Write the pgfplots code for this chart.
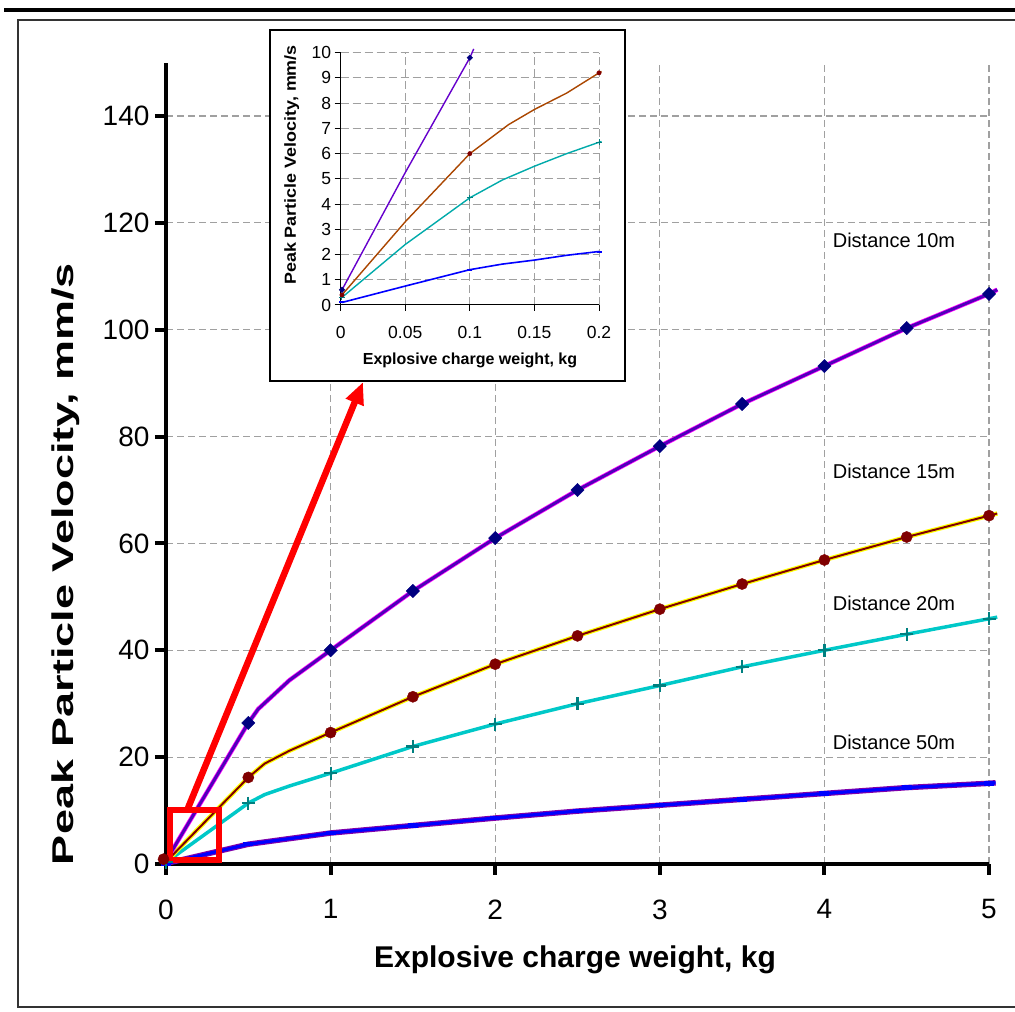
\documentclass[border=0pt]{standalone}
\usepackage{graphicx}
\usepackage{pgfplots}
\pgfplotsset{compat=1.18}
\usepackage{fontspec}
\setmainfont{Liberation Sans}
\usetikzlibrary{arrows.meta}
\definecolor{cten}{RGB}{80,0,185}
\definecolor{cmag}{RGB}{255,0,255}
\definecolor{cnavy}{RGB}{0,0,128}
\definecolor{cdred}{RGB}{128,0,0}
\definecolor{cyel}{RGB}{255,255,0}
\definecolor{ccyan}{RGB}{0,200,200}
\definecolor{cteal}{RGB}{0,128,128}
\definecolor{cblue}{RGB}{0,0,255}
\definecolor{cpurp}{RGB}{128,0,170}
\definecolor{cbrown}{RGB}{170,70,0}
\definecolor{itteal}{RGB}{0,170,170}
\definecolor{itpurp}{RGB}{102,0,204}
\definecolor{cgrid}{RGB}{160,160,160}
\begin{document}
\begin{tikzpicture}[x=1pt,y=1pt]
\path[use as bounding box] (0pt,0pt) rectangle (1015pt,1012pt);
% outer frame
\draw[line width=4.5pt] (4pt,1002pt) -- (1015pt,1002pt);
\draw[line width=1.5pt, black!80] (1016pt,992pt) -- (18pt,992pt) -- (18pt,5pt) -- (1016pt,5pt);
% main axis
\begin{axis}[at={(166pt,148pt)}, anchor=south west,
  width=823pt, height=801.4pt, scale only axis,
  xmin=0, xmax=5, ymin=0, ymax=150,
  xtick={0,1,2,3,4,5}, ytick={0,20,40,60,80,100,120,140},
  axis x line=bottom, axis y line=left,
  axis line style={-, line width=4pt},
  tick align=outside, major tick length=11pt,
  tick style={black, line width=4pt},
  grid=major, grid style={dash pattern=on 7pt off 4pt, cgrid, line width=1.2pt},
  ticklabel style={font=\fontsize{28}{32}\selectfont},
  xticklabel style={yshift=-21pt},
  yticklabel style={xshift=-2pt},
  /pgf/number format/assume math mode=true,
  scaled ticks=false, clip=false]
% 50 m
\addplot[cpurp, line width=5.5pt, no markers] coordinates {(0,0.1) (0.5,3.7) (1,5.8) (1.5,7.2) (2,8.6) (2.5,9.9) (3,11.0) (3.5,12.1) (4,13.2) (4.5,14.3) (5,15.1) (5.04,15.2)};
\addplot[cblue, line width=3.2pt, no markers] coordinates {(0,0.1) (0.5,3.7) (1,5.8) (1.5,7.2) (2,8.6) (2.5,9.9) (3,11.0) (3.5,12.1) (4,13.2) (4.5,14.3) (5,15.1) (5.04,15.2)};
\addplot[only marks, cblue, mark=-, mark size=5pt, mark options={line width=4.5pt}] coordinates {(0,0.1) (0.5,3.7) (1,5.8) (1.5,7.2) (2,8.6) (2.5,9.9) (3,11.0) (3.5,12.1) (4,13.2) (4.5,14.3) (5,15.1)};
% 20 m
\addplot[ccyan, line width=3.5pt, no markers] coordinates {(0,0.3) (0.5,11.4) (0.6,13.0) (0.75,14.6) (1,17.0) (1.5,22.0) (2,26.2) (2.5,30.0) (3,33.4) (3.5,36.9) (4,40.0) (4.5,43.0) (5,45.9) (5.05,46.2)};
\addplot[only marks, cteal, mark=+, mark size=6.5pt, mark options={line width=2.2pt}] coordinates {(0,0.3) (0.5,11.4) (1,17.0) (1.5,22.0) (2,26.2) (2.5,30.0) (3,33.4) (3.5,36.9) (4,40.0) (4.5,43.0) (5,45.9)};
% 15 m
\addplot[cyel, line width=4.4pt, no markers] coordinates {(0,0.4) (0.5,16.2) (0.6,18.8) (0.75,21.2) (1,24.6) (1.5,31.3) (2,37.4) (2.5,42.7) (3,47.7) (3.5,52.4) (4,56.9) (4.5,61.2) (5,65.2) (5.05,65.6)};
\addplot[cdred, line width=2pt, no markers] coordinates {(0,0.4) (0.5,16.2) (0.6,18.8) (0.75,21.2) (1,24.6) (1.5,31.3) (2,37.4) (2.5,42.7) (3,47.7) (3.5,52.4) (4,56.9) (4.5,61.2) (5,65.2) (5.05,65.6)};
\addplot[only marks, cdred, mark=*, mark size=5.6pt, mark options={fill=cdred, draw=cdred}] coordinates {(-0.015,0.9) (0.5,16.2) (1,24.6) (1.5,31.3) (2,37.4) (2.5,42.7) (3,47.7) (3.5,52.4) (4,56.9) (4.5,61.2) (5,65.2)};
% 10 m
\addplot[cmag, line width=4.4pt, no markers] coordinates {(0,0.6) (0.5,26.4) (0.56,29.0) (0.75,34.4) (1,40.0) (1.5,51.1) (2,61.0) (2.5,70.0) (3,78.2) (3.5,86.1) (4,93.2) (4.5,100.3) (5,106.7) (5.05,107.5)};
\addplot[cten, line width=2.9pt, no markers] coordinates {(0,0.6) (0.5,26.4) (0.56,29.0) (0.75,34.4) (1,40.0) (1.5,51.1) (2,61.0) (2.5,70.0) (3,78.2) (3.5,86.1) (4,93.2) (4.5,100.3) (5,106.7) (5.05,107.5)};
\addplot[only marks, cnavy, mark=square*, mark size=4.7pt, mark options={rotate=45, fill=cnavy, draw=cnavy}] coordinates {(0.5,26.4) (1,40.0) (1.5,51.1) (2,61.0) (2.5,70.0) (3,78.2) (3.5,86.1) (4,93.2) (4.5,100.3) (5,106.7)};
% labels
\node[anchor=west, inner sep=0pt, font=\fontsize{20}{24}\selectfont] at (axis cs:4.05,116.8) {Distance 10m};
\node[anchor=west, inner sep=0pt, font=\fontsize{20}{24}\selectfont] at (axis cs:4.05,73.4) {Distance 15m};
\node[anchor=west, inner sep=0pt, font=\fontsize{20}{24}\selectfont] at (axis cs:4.05,48.85) {Distance 20m};
\node[anchor=west, inner sep=0pt, font=\fontsize{20}{24}\selectfont] at (axis cs:4.05,22.8) {Distance 50m};
% red box and arrow
\draw[red, line width=6pt] (axis cs:0.024,0.75) rectangle (axis cs:0.32,10.16);
\draw[red, line width=6.5pt, -{Triangle[length=22pt, width=18pt]}] (axis cs:0.134,10.5) -- (axis cs:1.197,90.2);
\end{axis}
% axis titles
\node[font=\bfseries\fontsize{30}{36}\selectfont] at (575pt,52pt) {Explosive charge weight, kg};
\node[rotate=90, font=\bfseries\fontsize{30}{36}\selectfont] at (66pt,448pt) {\scalebox{1.5}[1]{Peak Particle Velocity, mm/s}};
% inset
\draw[line width=1.4pt, fill=white] (270pt,631pt) rectangle (625pt,982pt);
\begin{axis}[at={(340.7pt,707pt)}, anchor=south west,
  width=258.3pt, height=252.3pt, scale only axis,
  xmin=0, xmax=0.2, ymin=0, ymax=10,
  xtick={0,0.05,0.1,0.15,0.2}, xticklabels={0,0.05,0.1,0.15,0.2},
  ytick={0,1,2,3,4,5,6,7,8,9,10},
  axis x line=bottom, axis y line=left,
  axis line style={-, line width=1pt},
  tick align=outside, major tick length=6pt,
  tick style={black, line width=1pt},
  grid=major, grid style={dash pattern=on 8pt off 4pt, cgrid, line width=1pt},
  ticklabel style={font=\fontsize{17.5}{20}\selectfont},
  xticklabel style={yshift=-12pt},
  /pgf/number format/assume math mode=true,
  scaled ticks=false, clip=false]
\addplot[cblue, line width=1.6pt, no markers] coordinates {(0.001,0.1) (0.05,0.75) (0.1,1.4) (0.125,1.62) (0.15,1.78) (0.175,1.97) (0.2,2.12)};
\addplot[only marks, cblue, mark=-, mark size=2.5pt, mark options={line width=2pt}] coordinates {(0.001,0.1) (0.1,1.4) (0.2,2.12)};
\addplot[itteal, line width=1.4pt, no markers] coordinates {(0.001,0.3) (0.05,2.4) (0.1,4.25) (0.125,4.95) (0.15,5.5) (0.175,6.0) (0.2,6.45) (0.202,6.48)};
\addplot[only marks, cteal, mark=+, mark size=3pt, mark options={line width=1pt}] coordinates {(0.001,0.3) (0.1,4.25) (0.2,6.45)};
\addplot[cbrown, line width=1.4pt, no markers] coordinates {(0.001,0.4) (0.05,3.3) (0.1,6.0) (0.13,7.15) (0.15,7.75) (0.175,8.4) (0.2,9.2) (0.202,9.25)};
\addplot[only marks, cdred, mark=*, mark size=2.2pt] coordinates {(0.001,0.4) (0.1,6.0) (0.2,9.2)};
\addplot[itpurp, line width=1.4pt, no markers] coordinates {(0.001,0.6) (0.05,5.25) (0.1,9.8) (0.103,10.15)};
\addplot[only marks, cnavy, mark=square*, mark size=2pt, mark options={rotate=45}] coordinates {(0.001,0.6) (0.1,9.8)};
\end{axis}
\node[font=\bfseries\fontsize{16}{19}\selectfont] at (470pt,652pt) {Explosive charge weight, kg};
\node[rotate=90, font=\bfseries\fontsize{16}{19}\selectfont] at (291.7pt,847pt) {\scalebox{1.12}[1]{Peak Particle Velocity, mm/s}};
\end{tikzpicture}
\end{document}
